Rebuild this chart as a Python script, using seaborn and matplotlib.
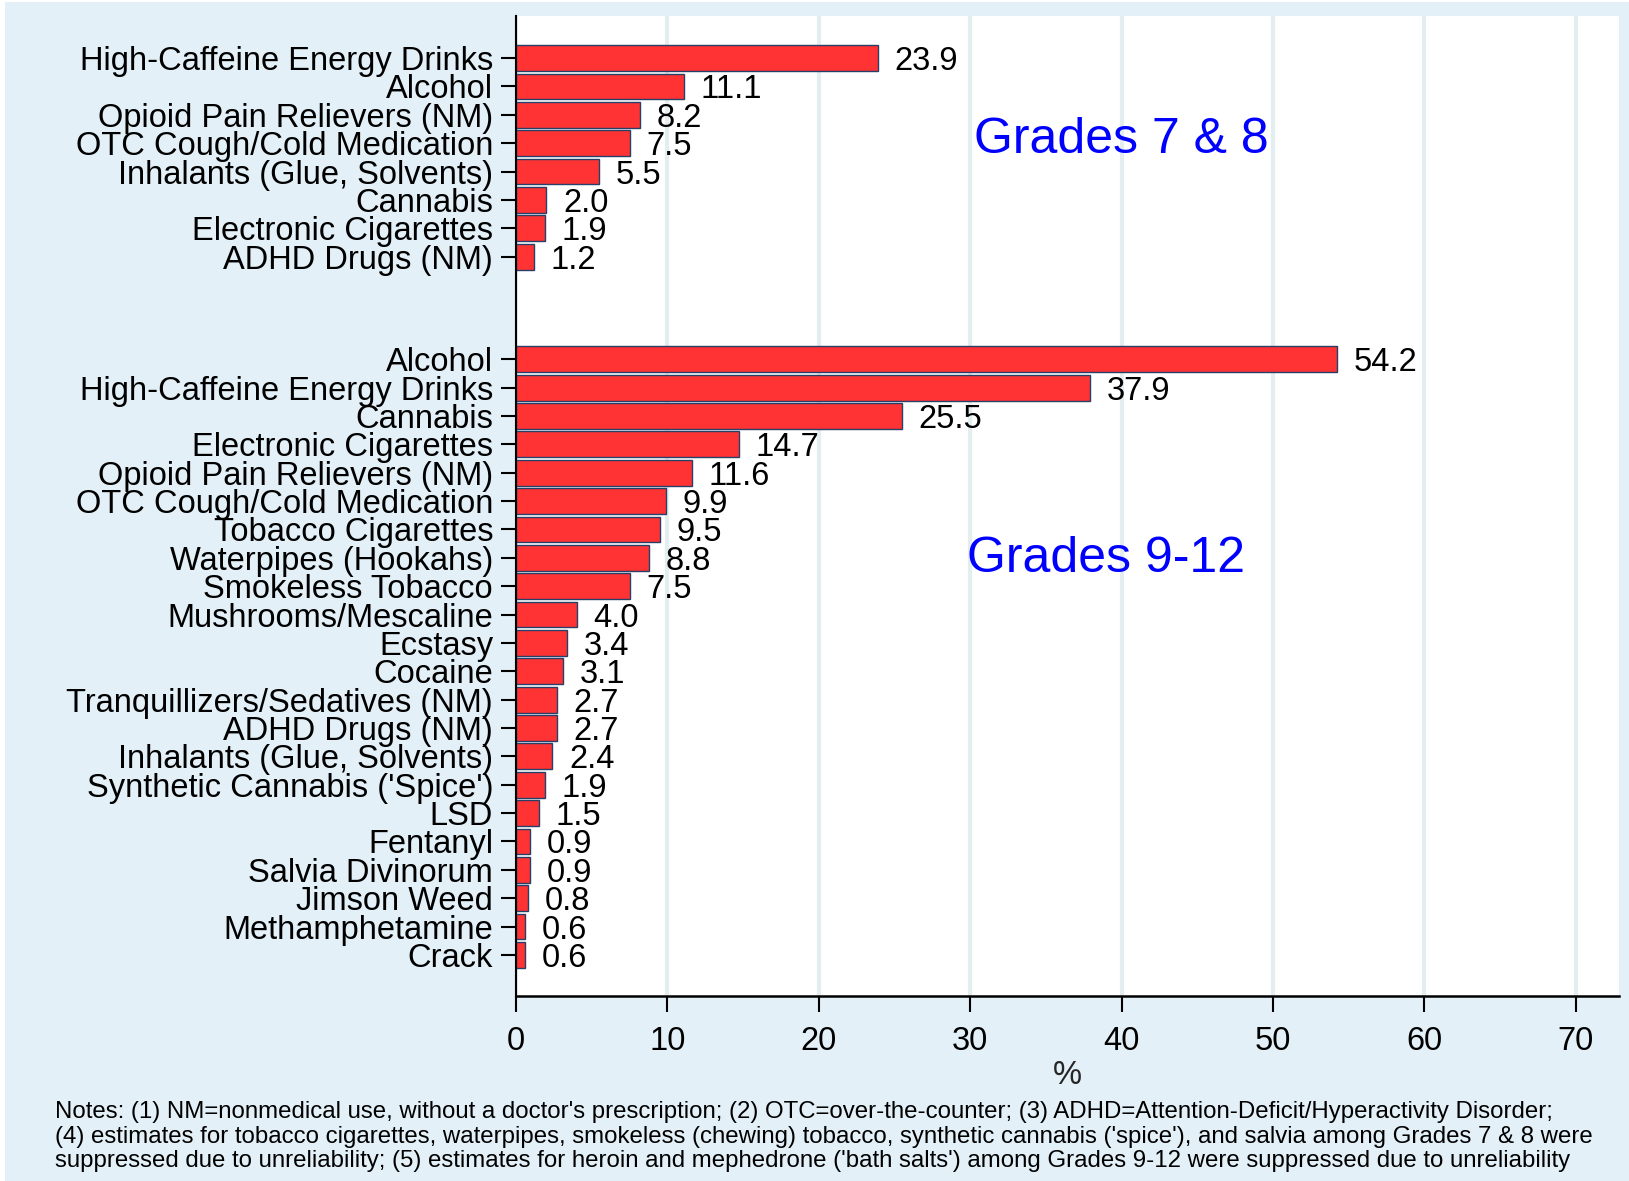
import numpy as np
import pandas as pd
import matplotlib
matplotlib.use("Agg")
import matplotlib.pyplot as plt
import seaborn as sns
from matplotlib.patches import Rectangle

# ---------------- data ----------------
grade78_labels = [
    "High-Caffeine Energy Drinks",
    "Alcohol",
    "Opioid Pain Relievers (NM)",
    "OTC Cough/Cold Medication",
    "Inhalants (Glue, Solvents)",
    "Cannabis",
    "Electronic Cigarettes",
    "ADHD Drugs (NM)",
]
grade78_values = [23.9, 11.1, 8.2, 7.5, 5.5, 2.0, 1.9, 1.2]

grade912_labels = [
    "Alcohol",
    "High-Caffeine Energy Drinks",
    "Cannabis",
    "Electronic Cigarettes",
    "Opioid Pain Relievers (NM)",
    "OTC Cough/Cold Medication",
    "Tobacco Cigarettes",
    "Waterpipes (Hookahs)",
    "Smokeless Tobacco",
    "Mushrooms/Mescaline",
    "Ecstasy",
    "Cocaine",
    "Tranquillizers/Sedatives (NM)",
    "ADHD Drugs (NM)",
    "Inhalants (Glue, Solvents)",
    "Synthetic Cannabis ('Spice')",
    "LSD",
    "Fentanyl",
    "Salvia Divinorum",
    "Jimson Weed",
    "Methamphetamine",
    "Crack",
]
grade912_values = [54.2, 37.9, 25.5, 14.7, 11.6, 9.9, 9.5, 8.8, 7.5, 4.0, 3.4,
                   3.1, 2.7, 2.7, 2.4, 1.9, 1.5, 0.9, 0.9, 0.8, 0.6, 0.6]

group_titles = ["Grades 7 & 8", "Grades 9-12"]
x_ticks = [0, 10, 20, 30, 40, 50, 60, 70]
x_label = "%"
notes_lines = [
    "Notes: (1) NM=nonmedical use, without a doctor's prescription; (2) OTC=over-the-counter; (3) ADHD=Attention-Deficit/Hyperactivity Disorder;",
    "(4) estimates for tobacco cigarettes, waterpipes, smokeless (chewing) tobacco, synthetic cannabis ('spice'), and salvia among Grades 7 & 8 were",
    "suppressed due to unreliability; (5) estimates for heroin and mephedrone ('bath salts') among Grades 9-12 were suppressed due to unreliability",
]

# ---------------- layout ----------------
W, H = 1629, 1181
GAP = 3.62  # spacing between the two groups, in bar slots
pos78 = np.arange(len(grade78_values), dtype=float)
pos912 = pos78[-1] + GAP + np.arange(len(grade912_values), dtype=float)

df = pd.DataFrame({
    "label": grade78_labels + grade912_labels,
    "value": grade78_values + grade912_values,
    "pos": np.concatenate([pos78, pos912]),
})

sns.set_theme(style="white")
plt.rcParams['font.family'] = ['Liberation Sans', 'DejaVu Sans']

fig = plt.figure(figsize=(W / 100, H / 100), dpi=100)
fig.patch.set_facecolor("white")
fig.add_artist(Rectangle((5 / W, 0), 1, 1 - 2 / H, transform=fig.transFigure,
                         facecolor="#e3f0f7", edgecolor="none", zorder=-10))

ax_left, ax_right, ax_top, ax_bottom = 516, 1619, 15.6, 996
ax = fig.add_axes([ax_left / W, 1 - ax_bottom / H,
                   (ax_right - ax_left) / W, (ax_bottom - ax_top) / H])
ax.set_facecolor("white")

sns.barplot(data=df, x="value", y="pos", orient="y", native_scale=True,
            color="#ff3333", saturation=1, width=0.91, edgecolor="#27406a",
            linewidth=1.0, errorbar=None, ax=ax)

ax.set_xlim(0, 72.85)
ax.set_ylim(pos912[-1] + 1.45, -1.5)
ax.set_yticks(df["pos"])
ax.set_yticklabels(df["label"], fontsize=23.5)
ax.set_xticks(x_ticks)
ax.set_xticklabels([str(t) for t in x_ticks], fontsize=23.5)
ax.set_xlabel(x_label, fontsize=23.5, labelpad=2)
ax.set_ylabel("")

ax.grid(axis="x", color="#e4edf0", linewidth=3)
ax.grid(axis="y", visible=False)
ax.set_axisbelow(True)

for s in ["top", "right"]:
    ax.spines[s].set_visible(False)
ax.spines["left"].set_color("black")
ax.spines["left"].set_linewidth(1.5)
ax.spines["bottom"].set_color("black")
ax.spines["bottom"].set_linewidth(1.8)

ax.tick_params(axis="y", left=True, length=10.5, width=1.5, color="black", pad=6,
               labelcolor="black")
ax.tick_params(axis="x", bottom=True, length=11.5, width=1.5, color="black", pad=10,
               labelcolor="black")

cont = ax.containers[0]
value_texts = ax.bar_label(cont, labels=[f"{b.get_width():.1f}" for b in cont],
                           padding=12, fontsize=23.5, color="black")
for t in value_texts:
    t.set_verticalalignment("center_baseline")

ax.text(40.0, pos78[0] + 3.34, group_titles[0], fontsize=36, color="#0000ff",
        ha="center", va="baseline")
ax.text(39.0, pos912[0] + 7.51, group_titles[1], fontsize=36, color="#0000ff",
        ha="center", va="baseline")

for line, yb in zip(notes_lines, [1118, 1143, 1167]):
    fig.text(55 / W, 1 - yb / H, line, fontsize=17.3, ha="left", va="baseline",
             color="black")

fig.savefig("out.png", dpi=100)
